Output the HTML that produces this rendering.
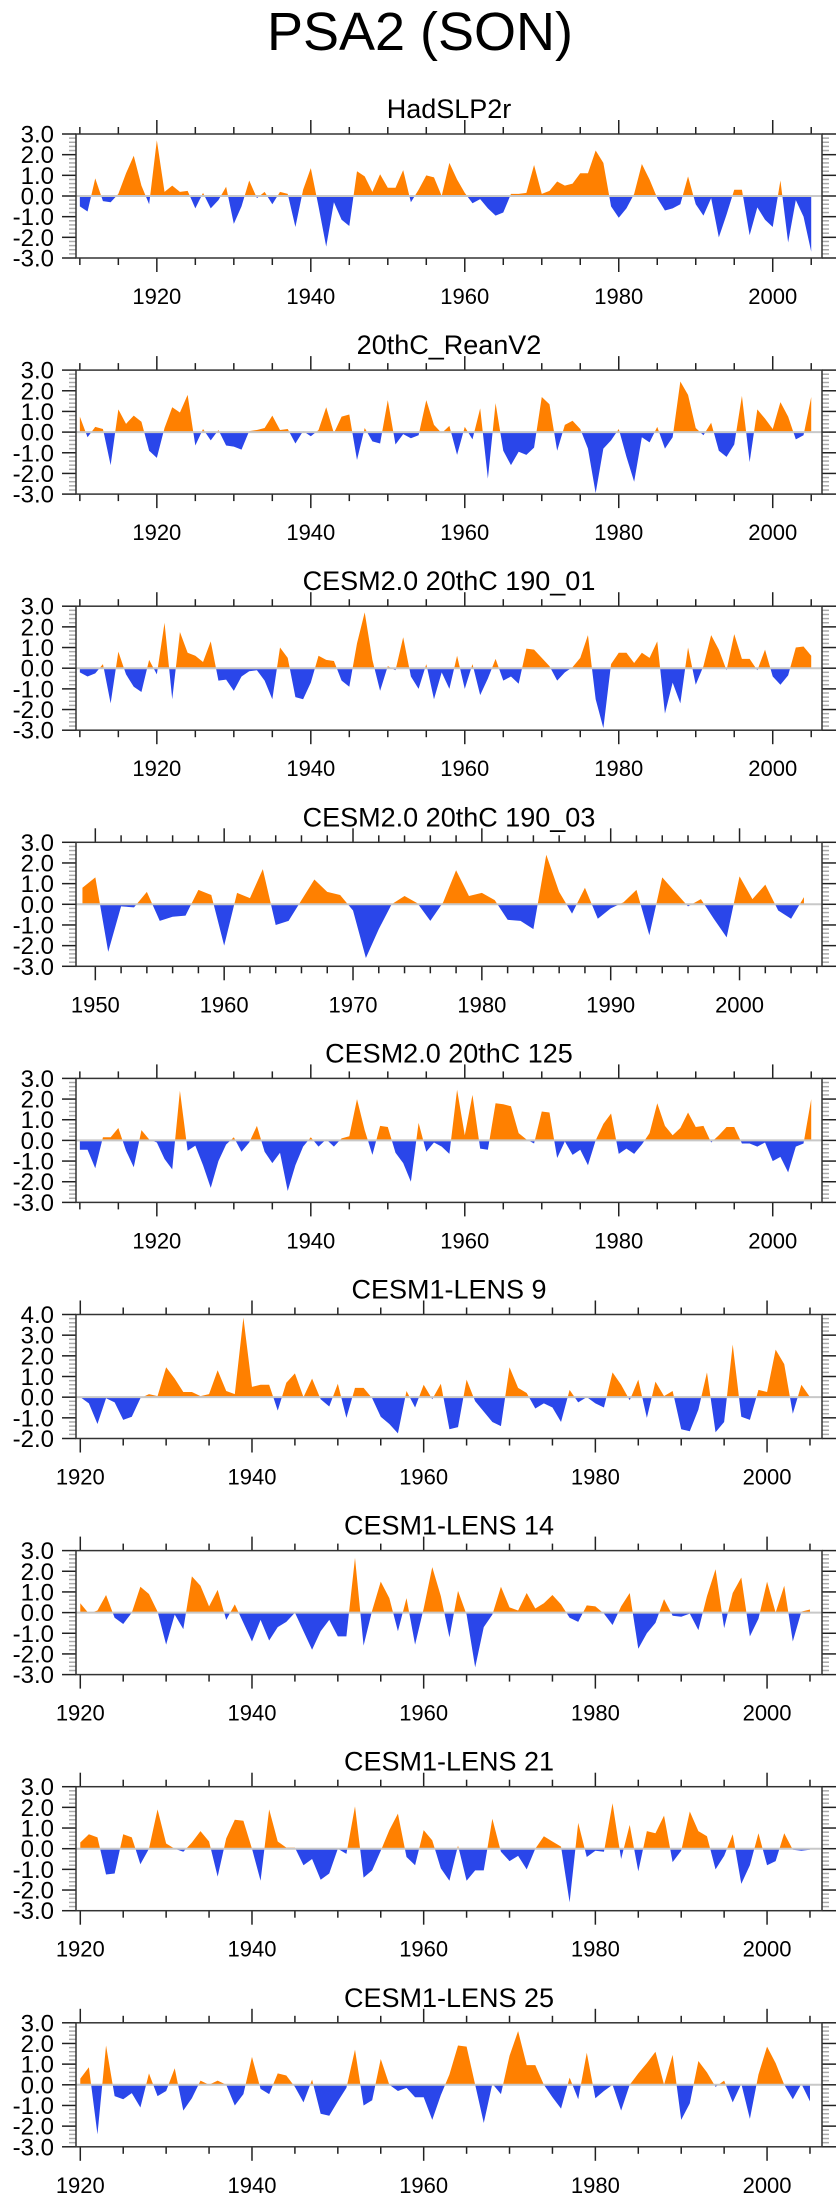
<!DOCTYPE html>
<html><head><meta charset="utf-8">
<style>
html,body{margin:0;padding:0;background:#fff;}
svg{display:block;font-family:"Liberation Sans",Arial,sans-serif;}
</style></head>
<body>
<svg id="chart" width="840" height="2200" viewBox="0 0 840 2200" xmlns="http://www.w3.org/2000/svg">
<text x="420" y="50" text-anchor="middle" font-size="54" fill="#000">PSA2 (SON)</text>
</svg>
<script>
const titles = ["HadSLP2r","20thC_ReanV2","CESM2.0 20thC 190_01","CESM2.0 20thC 190_03","CESM2.0 20thC 125","CESM1-LENS 9","CESM1-LENS 14","CESM1-LENS 21","CESM1-LENS 25"];
const startYears = [1910,1910,1910,1949,1910,1920,1920,1920,1920];
const yMins = [-3,-3,-3,-3,-3,-2,-3,-3,-3];
const yMaxs = [3,3,3,3,3,4,3,3,3];
const xTickLabelsA = [1920,1940,1960,1980,2000];
const xTickLabelsB = [1950,1960,1970,1980,1990,2000];
const hadslp2r = [-0.5,-0.75,0.85,-0.25,-0.3,0.1,1.1,1.95,0.5,-0.4,2.7,0.2,0.5,0.2,0.25,-0.6,0.15,-0.6,-0.2,0.45,-1.35,-0.5,0.75,-0.1,0.2,-0.4,0.2,0.1,-1.5,0.3,1.35,-0.5,-2.45,-0.3,-1.15,-1.45,1.2,0.95,0.2,1.05,0.4,0.4,1.25,-0.3,0.3,1.0,0.9,0.0,1.6,0.8,0.15,-0.35,-0.15,-0.6,-0.95,-0.8,0.1,0.1,0.15,1.5,0.1,0.25,0.7,0.5,0.6,1.1,1.1,2.2,1.6,-0.5,-1.05,-0.6,0.1,1.55,0.8,-0.1,-0.7,-0.6,-0.4,0.95,-0.4,-0.95,-0.1,-2.0,-0.9,0.3,0.3,-1.9,-0.55,-1.15,-1.5,0.75,-2.25,-0.2,-1.0,-2.7];
const reanV2 = [0.75,-0.25,0.25,0.15,-1.6,1.1,0.4,0.8,0.5,-0.9,-1.25,0.2,1.2,0.95,1.8,-0.65,0.15,-0.4,0.1,-0.65,-0.7,-0.85,0.05,0.1,0.2,0.8,0.1,0.15,-0.55,0.05,-0.2,0.1,1.2,-0.05,0.75,0.85,-1.35,0.2,-0.45,-0.55,1.55,-0.6,-0.1,-0.3,-0.15,1.55,0.35,-0.05,0.3,-1.1,0.25,-0.35,1.15,-2.25,1.4,-0.9,-1.6,-0.95,-1.1,-0.75,1.7,1.35,-0.9,0.35,0.55,0.15,-0.8,-2.95,-0.8,-0.4,0.15,-1.2,-2.4,-0.25,-0.5,0.25,-0.8,-0.25,2.45,1.8,0.2,-0.15,0.45,-0.9,-1.2,-0.6,1.75,-1.45,1.1,0.65,0.15,1.45,0.75,-0.35,-0.15,1.7];
const cesm2_190_01 = [-0.2,-0.4,-0.25,0.2,-1.7,0.8,-0.3,-0.9,-1.15,0.4,-0.3,2.2,-1.5,1.75,0.75,0.6,0.3,1.3,-0.6,-0.55,-1.1,-0.4,-0.15,-0.1,-0.6,-1.5,1.0,0.5,-1.4,-1.5,-0.7,0.6,0.4,0.35,-0.6,-0.9,1.2,2.7,0.4,-1.1,0.1,-0.1,1.5,-0.4,-1.0,0.2,-1.5,-0.2,-1.0,0.6,-1.0,0.2,-1.3,-0.5,0.45,-0.6,-0.4,-0.75,0.95,0.9,0.5,0.1,-0.6,-0.2,0.05,0.5,1.6,-1.5,-2.9,0.2,0.75,0.75,0.25,0.75,0.5,1.3,-2.2,-0.7,-1.7,1.0,-0.8,0.1,1.6,0.9,-0.1,1.65,0.45,0.45,-0.1,0.9,-0.4,-0.8,-0.35,1.0,1.05,0.6];
const cesm2_190_03 = [0.8,1.3,-2.3,-0.1,-0.15,0.6,-0.8,-0.6,-0.55,0.7,0.45,-2.0,0.55,0.3,1.7,-1.0,-0.8,0.2,1.2,0.6,0.45,-0.3,-2.6,-1.2,0.0,0.4,0.05,-0.8,0.1,1.65,0.4,0.55,0.2,-0.75,-0.8,-1.2,2.4,0.6,-0.45,0.8,-0.7,-0.2,0.1,0.7,-1.5,1.3,0.6,-0.1,0.25,-0.7,-1.6,1.35,0.25,0.95,-0.3,-0.7,0.35];
const cesm2_125 = [-0.45,-0.45,-1.35,0.15,0.15,0.6,-0.5,-1.3,0.5,0.05,-0.1,-0.9,-1.4,2.4,-0.5,-0.25,-1.2,-2.3,-1.0,-0.2,0.15,-0.55,-0.1,0.7,-0.55,-1.1,-0.6,-2.45,-1.2,-0.3,0.15,-0.3,0.05,-0.3,0.1,0.2,2.0,0.5,-0.7,0.7,0.65,-0.6,-1.1,-2.0,0.85,-0.55,-0.1,-0.3,-0.65,2.45,0.25,2.2,-0.4,-0.45,1.8,1.75,1.65,0.35,0.05,-0.15,1.4,1.35,-0.85,-0.05,-0.7,-0.45,-1.2,0.0,0.8,1.3,-0.65,-0.4,-0.65,-0.2,0.35,1.8,0.7,0.25,0.6,1.35,0.65,0.7,-0.1,0.25,0.65,0.65,-0.15,-0.15,-0.3,-0.1,-1.0,-0.8,-1.55,-0.3,-0.15,2.0];
const lens9 = [0.0,-0.3,-1.3,-0.05,-0.25,-1.1,-0.95,-0.05,0.15,0.05,1.45,0.9,0.25,0.25,0.05,0.15,1.3,0.3,0.15,3.85,0.5,0.6,0.6,-0.65,0.7,1.15,0.0,0.9,-0.1,-0.45,0.65,-1.0,0.45,0.45,-0.05,-0.95,-1.3,-1.75,0.3,-0.5,0.6,-0.1,0.65,-1.55,-1.45,0.85,-0.2,-0.7,-1.2,-1.4,1.45,0.45,0.2,-0.55,-0.3,-0.5,-1.2,0.35,-0.25,0.0,-0.3,-0.5,1.2,0.6,-0.15,0.85,-1.0,0.75,0.05,0.3,-1.55,-1.65,-0.6,1.2,-1.7,-1.2,2.55,-0.95,-1.1,0.35,0.25,2.3,1.6,-0.8,0.6,0.0];
const lens14 = [0.45,-0.05,0.1,0.85,-0.25,-0.55,0.0,1.25,0.9,0.05,-1.55,-0.1,-0.8,1.75,1.3,0.3,1.1,-0.35,0.4,-0.5,-1.4,-0.35,-1.35,-0.7,-0.45,0.0,-0.9,-1.8,-0.9,-0.35,-1.15,-1.15,2.65,-1.6,0.1,1.5,0.7,-0.9,0.7,-1.55,0.2,2.2,0.8,-1.2,1.05,-0.1,-2.65,-0.7,-0.1,1.25,0.25,0.1,0.95,0.2,0.45,0.85,0.4,-0.25,-0.45,0.35,0.3,-0.05,-0.6,0.3,0.95,-1.75,-1.0,-0.5,0.65,-0.15,-0.2,-0.05,-0.85,0.8,2.1,-0.75,0.95,1.7,-1.15,-0.3,1.5,0.0,1.3,-1.4,0.05,0.15];
const lens21 = [0.3,0.7,0.55,-1.25,-1.2,0.7,0.55,-0.75,0.0,1.9,0.25,0.0,-0.15,0.3,0.85,0.35,-1.35,0.5,1.4,1.35,0.0,-1.55,1.9,0.35,0.05,0.05,-0.8,-0.5,-1.5,-1.2,0.0,-0.25,2.05,-1.4,-1.05,-0.1,0.9,1.7,-0.4,-0.8,0.9,0.4,-0.95,-1.55,0.15,-1.55,-1.05,-1.05,1.45,-0.15,-0.6,-0.35,-1.0,0.0,0.6,0.35,0.1,-2.6,1.25,-0.4,-0.1,-0.15,2.2,-0.5,1.15,-1.1,0.85,0.75,1.6,-0.65,-0.1,1.8,0.85,0.6,-1.0,-0.35,0.7,-1.7,-0.8,0.75,-0.8,-0.6,0.75,-0.05,-0.1,-0.05];
const lens25 = [0.3,0.85,-2.4,1.9,-0.55,-0.7,-0.4,-1.1,0.55,-0.55,-0.3,0.8,-1.25,-0.65,0.2,0.0,0.2,0.0,-1.0,-0.45,1.35,-0.2,-0.45,0.55,0.45,-0.1,-0.85,0.25,-1.4,-1.5,-0.8,-0.15,1.7,-1.0,-0.75,1.25,0.0,-0.3,-0.15,-0.6,-0.6,-1.7,-0.5,0.5,1.9,1.85,0.0,-1.85,0.05,-0.45,1.4,2.6,0.95,0.95,0.0,-0.6,-1.15,0.35,-0.7,1.55,-0.65,-0.3,0.0,-1.25,0.0,0.55,1.05,1.6,0.0,1.45,-1.7,-0.9,1.15,0.6,-0.1,0.2,-0.85,0.05,-1.65,0.5,1.85,1.05,0.0,-0.7,0.05,-0.8];

const seriesList = [hadslp2r, reanV2, cesm2_190_01, cesm2_190_03, cesm2_125, lens9, lens14, lens21, lens25];
const NS = "http://www.w3.org/2000/svg";
const svg = document.getElementById("chart");
const LEFT = 76, RIGHT = 822, H = 124, TOP0 = 134, STEP = 236.1, XMAX = 2006.4;

function mk(tag, attrs, parent) {
  const e = document.createElementNS(NS, tag);
  for (const k in attrs) e.setAttribute(k, attrs[k]);
  parent.appendChild(e);
  return e;
}

for (let i = 0; i < 9; i++) {
  const vals = seriesList[i];
  const y0 = startYears[i];
  const top = TOP0 + i * STEP, bot = top + H;
  const xmin = y0 - 0.5;
  const ymin = yMins[i], ymax = yMaxs[i];
  const xs = yr => LEFT + (yr - xmin) / (XMAX - xmin) * (RIGHT - LEFT);
  const ys = v => bot - (v - ymin) / (ymax - ymin) * H;
  const yz = ys(0);

  const g = mk("g", {}, svg);
  
  

  const t = mk("text", {x: (LEFT + RIGHT) / 2, y: top - 16, "text-anchor": "middle", "font-size": 27, fill: "#000"}, g);
  t.textContent = titles[i];
  
  

  const cu = mk("clipPath", {id: "cu" + i}, g);
  mk("rect", {x: LEFT, y: top, width: RIGHT - LEFT, height: yz - top}, cu);
  const cd = mk("clipPath", {id: "cd" + i}, g);
  mk("rect", {x: LEFT, y: yz, width: RIGHT - LEFT, height: bot - yz}, cd);

  let pts = xs(y0).toFixed(2) + "," + yz.toFixed(2);
  for (let k = 0; k < vals.length; k++) pts += " " + xs(y0 + k).toFixed(2) + "," + ys(vals[k]).toFixed(2);
  pts += " " + xs(y0 + vals.length - 1).toFixed(2) + "," + yz.toFixed(2);

  const pos = mk("polygon", {points: pts, fill: "#ff8000", "clip-path": "url(#cu" + i + ")"}, g);
  
  
  const neg = mk("polygon", {points: pts, fill: "#2a46ea", "clip-path": "url(#cd" + i + ")"}, g);
  
  

  const zl = mk("line", {x1: LEFT, x2: RIGHT, y1: yz, y2: yz, stroke: "#c8c8c8", "stroke-width": 2}, g);
  
  

  for (let v = ymin; v <= ymax + 1e-6; v += 0.2) {
    const r = Math.round(v * 10) / 10;
    const major = Math.abs(r - Math.round(r)) < 1e-6;
    const yy = ys(r);
    const len = major ? 14 : 7;
    const col = major ? "#222" : "#aaa";
    mk("line", {x1: LEFT - len, x2: LEFT, y1: yy, y2: yy, stroke: col, "stroke-width": 1.5}, g);
    mk("line", {x1: RIGHT, x2: RIGHT + len, y1: yy, y2: yy, stroke: col, "stroke-width": 1.5}, g);
    if (major) {
      const lb = mk("text", {x: LEFT - 22, y: yy + 8.5, "text-anchor": "end", "font-size": 24, fill: "#000"}, g);
      lb.textContent = r.toFixed(1);
      
      
    }
  }

  const labels = (i === 3) ? xTickLabelsB : xTickLabelsA;
  const majorStep = (i === 3) ? 10 : 20;
  const minorStep = (i === 3) ? 2 : 5;
  const first = Math.ceil(xmin / minorStep) * minorStep;
  for (let yr = first; yr <= XMAX; yr += minorStep) {
    const major = yr % majorStep === 0;
    const xx = xs(yr);
    const len = major ? 14 : 7;
    mk("line", {x1: xx, x2: xx, y1: bot, y2: bot + len, stroke: "#222", "stroke-width": 1.5}, g);
    mk("line", {x1: xx, x2: xx, y1: top - len, y2: top, stroke: "#222", "stroke-width": 1.5}, g);
  }
  for (const lyr of labels) {
    const lb = mk("text", {x: xs(lyr), y: bot + 46, "text-anchor": "middle", "font-size": 22, fill: "#000"}, g);
    lb.textContent = lyr;
    
    
  }

  const box = mk("rect", {x: LEFT, y: top, width: RIGHT - LEFT, height: H, fill: "none", stroke: "#333", "stroke-width": 1.5}, g);
  
  
}
</script>
</body></html>
